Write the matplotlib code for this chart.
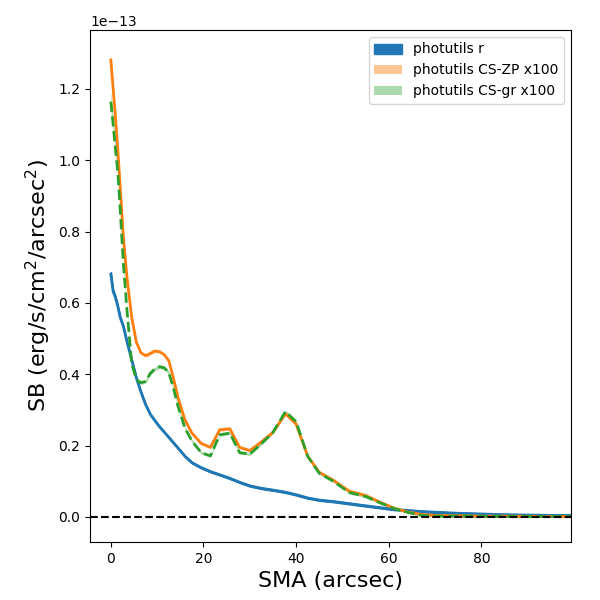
import numpy as np
from matplotlib import pyplot as plt

# SMA grid (arcsec)
sma = [0, 0.5, 1, 1.5, 2, 2.7, 3.5, 4.5, 5.5, 6.5, 7.5, 8.5, 9.5, 10.5, 11.5,
       12.5, 13.5, 14.5, 16, 17.5, 19.5, 21.5, 23.5, 25.7, 27.8, 30, 32.5, 35,
       37.7, 40, 42.5, 45, 48, 51.5, 55, 58, 61, 64, 67, 70, 75, 80, 85, 90,
       95, 99.5]

# surface brightness, units of 1e-13 erg/s/cm2/arcsec2
sb_r = [0.680, 0.632, 0.615, 0.590, 0.560, 0.534, 0.490, 0.440, 0.390, 0.350,
        0.315, 0.288, 0.270, 0.253, 0.238, 0.223, 0.208, 0.193, 0.170, 0.152,
        0.138, 0.127, 0.118, 0.108, 0.097, 0.087, 0.080, 0.075, 0.069, 0.062,
        0.053, 0.047, 0.043, 0.037, 0.031, 0.026, 0.021, 0.018, 0.015, 0.013,
        0.010, 0.008, 0.006, 0.005, 0.004, 0.004]
sb_zp = [1.281, 1.200, 1.120, 1.030, 0.930, 0.785, 0.670, 0.560, 0.490, 0.460,
         0.452, 0.458, 0.465, 0.463, 0.455, 0.438, 0.390, 0.335, 0.272, 0.235,
         0.206, 0.195, 0.244, 0.247, 0.195, 0.186, 0.210, 0.237, 0.289, 0.260,
         0.170, 0.125, 0.103, 0.072, 0.060, 0.042, 0.025, 0.014, 0.007, 0.004,
         0.003, 0.002, 0.002, 0.0015, 0.001, 0.001]
sb_gr = [1.164, 1.100, 1.030, 0.967, 0.866, 0.711, 0.577, 0.430, 0.385, 0.376,
         0.380, 0.402, 0.415, 0.421, 0.418, 0.405, 0.362, 0.310, 0.249, 0.213,
         0.180, 0.171, 0.230, 0.235, 0.180, 0.176, 0.205, 0.237, 0.295, 0.267,
         0.170, 0.122, 0.100, 0.068, 0.057, 0.040, 0.024, 0.013, 0.004, 0.002,
         0.002, 0.0015, 0.001, 0.001, 0.001, 0.001]

# errors (same units)
err_r = [0.006, 0.005, 0.004, 0.004, 0.003, 0.003, 0.003, 0.003, 0.002, 0.002,
         0.002, 0.002, 0.002, 0.002, 0.002, 0.002, 0.002, 0.002, 0.002, 0.002,
         0.002, 0.002, 0.002, 0.002, 0.002, 0.002, 0.002, 0.002, 0.002, 0.002,
         0.002, 0.002, 0.002, 0.002, 0.002, 0.002, 0.002, 0.002, 0.002, 0.002,
         0.002, 0.002, 0.002, 0.002, 0.002, 0.002]
err_zp = [0.020, 0.015, 0.010, 0.008, 0.007, 0.006, 0.005, 0.005, 0.004, 0.004,
          0.004, 0.004, 0.004, 0.004, 0.004, 0.004, 0.004, 0.004, 0.004, 0.004,
          0.004, 0.004, 0.004, 0.004, 0.004, 0.004, 0.004, 0.004, 0.004, 0.004,
          0.003, 0.003, 0.003, 0.003, 0.003, 0.003, 0.003, 0.003, 0.003, 0.003,
          0.003, 0.003, 0.003, 0.003, 0.003, 0.003]
err_gr = [0.028, 0.020, 0.014, 0.010, 0.008, 0.007, 0.006, 0.005, 0.005, 0.005,
          0.005, 0.005, 0.005, 0.005, 0.005, 0.005, 0.005, 0.005, 0.004, 0.004,
          0.004, 0.004, 0.004, 0.004, 0.004, 0.004, 0.004, 0.004, 0.004, 0.004,
          0.003, 0.003, 0.003, 0.003, 0.003, 0.003, 0.003, 0.003, 0.003, 0.003,
          0.003, 0.003, 0.003, 0.003, 0.003, 0.003]

x = np.array(sma)
scale = 1e-13

fig = plt.figure(figsize=(6, 6), dpi=100)
ax = fig.add_subplot(111)
fig.subplots_adjust(left=0.15, right=0.952, top=0.95, bottom=0.097)

# photutils r
y = np.array(sb_r) * scale
e = np.array(err_r) * scale
ax.fill_between(x, y - e, y + e, color='C0', label='photutils r')
ax.plot(x, y, color='C0', lw=2)

# CS-ZP
y = np.array(sb_zp) * scale
e = np.array(err_zp) * scale
ax.fill_between(x, y - e, y + e, color='C1', alpha=0.45, lw=0,
                label='photutils CS-ZP x100')
ax.plot(x, y, color='C1', lw=2)

# CS-gr
y = np.array(sb_gr) * scale
e = np.array(err_gr) * scale
ax.fill_between(x, y - e, y + e, color='C2', alpha=0.4, lw=0,
                label='photutils CS-gr x100')
ax.plot(x, y, color='C2', lw=2, ls='--')

ax.axhline(0, color='k', ls='--')

ax.set_xlim(-4.5, 99.4)
ax.set_ylim(-0.070 * scale, 1.365 * scale)
ax.set_xlabel('SMA (arcsec)', fontsize=16)
ax.set_ylabel('SB (erg/s/cm$^2$/arcsec$^2$)', fontsize=16)
ax.legend(loc='upper right')

fig.savefig('out.png', dpi=100)
